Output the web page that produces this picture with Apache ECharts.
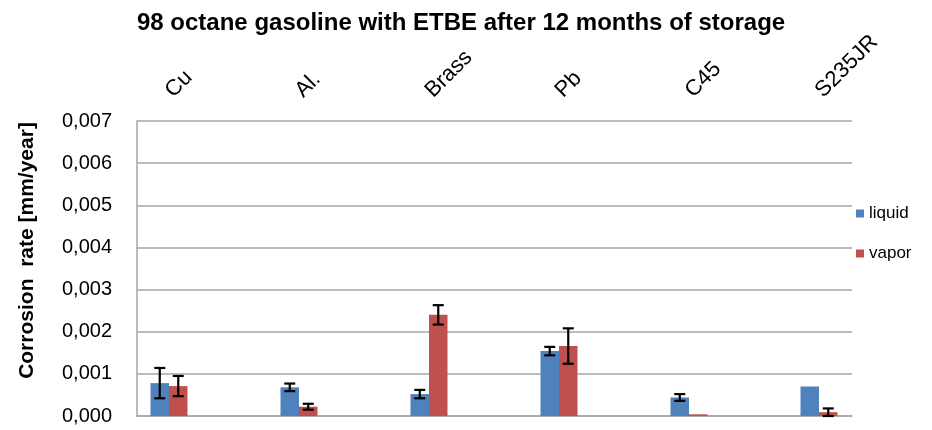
<!DOCTYPE html>
<html><head><meta charset="utf-8">
<script src="https://cdn.jsdelivr.net/npm/echarts@6/dist/echarts.min.js"></script>
<style>html,body{margin:0;padding:0;background:#fff}#c{width:932px;height:430px}</style>
</head><body><div id="c"></div><script>
const categories = ['Cu', 'Al.', 'Brass', 'Pb', 'C45', 'S235JR'];
const liquid = [0.00078, 0.00068, 0.00052, 0.00154, 0.00044, 0.00070];
const vapor = [0.00071, 0.00022, 0.00240, 0.00166, 0.00004, 0.00009];
const liquidErr = [0.00036, 0.00009, 0.00010, 0.00010, 0.00008, null];
const vaporErr = [0.00024, 0.00007, 0.00023, 0.00042, null, 0.00009];
const yMin = 0, yMax = 0.007, yStep = 0.001;

const FF = '"Liberation Sans", Arial, sans-serif';
const BAR_W = 18.5;
const errData = [];
categories.forEach((c, i) => {
  errData.push([i, liquid[i], liquidErr[i] == null ? NaN : liquidErr[i], -1]);
  errData.push([i, vapor[i], vaporErr[i] == null ? NaN : vaporErr[i], 1]);
});

const chart = echarts.init(document.getElementById('c'), null, {renderer: 'canvas'});
chart.setOption({
  animation: false,
  backgroundColor: '#fff',
  title: {
    text: '98 octane gasoline with ETBE after 12 months of storage',
    left: 132, top: 6,
    textStyle: {fontFamily: FF, fontSize: 24, fontWeight: 'bold', color: '#000'}
  },
  legend: {
    data: ['liquid', 'vapor'], orient: 'vertical', left: 856, top: 205,
    itemWidth: 8, itemHeight: 8, itemGap: 23, icon: 'rect', padding: 0,
    textStyle: {fontFamily: FF, fontSize: 17, color: '#000'}
  },
  grid: [
    {left: 137, right: 80, top: 121, bottom: 14},
    {left: 104, right: 48, top: 121, bottom: 14}
  ],
  xAxis: [
    {gridIndex: 0, type: 'value', min: 0, max: 1,
     axisLine: {show: true, lineStyle: {color: '#a6a6a6', width: 1.5}},
     axisTick: {show: false}, axisLabel: {show: false}, splitLine: {show: false}},
    {gridIndex: 1, type: 'category', data: categories, position: 'top',
     axisLine: {show: false}, axisTick: {show: false},
     axisLabel: {interval: 0, rotate: 45, margin: 27, fontSize: 22, color: '#000', fontFamily: FF}}
  ],
  yAxis: [
    {gridIndex: 0, type: 'value', min: yMin, max: yMax, interval: yStep,
     axisLine: {show: true, lineStyle: {color: '#a6a6a6', width: 1.5}},
     axisTick: {show: false},
     axisLabel: {margin: 25, fontSize: 20, color: '#000', fontFamily: FF,
       formatter: v => v.toFixed(3).replace('.', ',')},
     splitLine: {show: true, lineStyle: {color: '#a6a6a6', width: 1.5}},
     name: 'Corrosion  rate [mm/year]', nameLocation: 'middle', nameGap: 99,
     nameTextStyle: {fontSize: 21, fontWeight: 'bold', color: '#000', fontFamily: FF, padding: [0, 0, 0, 36]}},
    {gridIndex: 1, type: 'value', min: yMin, max: yMax, show: false}
  ],
  series: [
    {name: 'liquid', type: 'bar', xAxisIndex: 1, yAxisIndex: 1, data: liquid,
     barWidth: BAR_W, barGap: '0%', itemStyle: {color: '#4F81BD'}},
    {name: 'vapor', type: 'bar', xAxisIndex: 1, yAxisIndex: 1, data: vapor,
     barWidth: BAR_W, barGap: '0%', itemStyle: {color: '#C0504D'}},
    {name: 'err', type: 'custom', xAxisIndex: 1, yAxisIndex: 1, z: 10,
     encode: {x: 0, y: 1}, data: errData,
     renderItem: function (params, api) {
       const i = api.value(0), v = api.value(1), e = api.value(2), s = api.value(3);
       if (!(e > 0)) return null;
       const x = api.coord([i, v])[0] + s * BAR_W / 2;
       const yh = api.coord([i, v + e])[1];
       const yl = api.coord([i, v - e])[1];
       const cw = 5.5;
       const st = {stroke: '#000', lineWidth: 2.2};
       return {type: 'group', children: [
         {type: 'line', shape: {x1: x, y1: yh, x2: x, y2: yl}, style: st},
         {type: 'line', shape: {x1: x - cw, y1: yh, x2: x + cw, y2: yh}, style: st},
         {type: 'line', shape: {x1: x - cw, y1: yl, x2: x + cw, y2: yl}, style: st}
       ]};
     }}
  ]
});
</script></body></html>
